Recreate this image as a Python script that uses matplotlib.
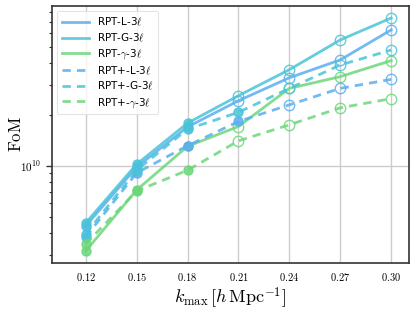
import matplotlib
matplotlib.use("Agg")
import matplotlib.pyplot as plt
import numpy as np
from matplotlib.ticker import LogLocator, NullFormatter, FixedLocator

# k_max values
k_max = [0.12, 0.15, 0.18, 0.21, 0.24, 0.27, 0.30]

# FoM per model
fom_rpt_l = [4.42e9, 9.8e9, 1.69e10, 2.41e10, 3.29e10, 4.19e10, 6.29e10]
fom_rpt_g = [4.60e9, 1.02e10, 1.78e10, 2.58e10, 3.67e10, 5.49e10, 7.39e10]
fom_rpt_gam = [3.15e9, 7.19e9, 1.30e10, 1.70e10, 2.85e10, 3.34e10, 4.15e10]
fom_rptp_l = [3.81e9, 9.06e9, 1.31e10, 1.82e10, 2.28e10, 2.85e10, 3.22e10]
fom_rptp_g = [3.97e9, 9.4e9, 1.64e10, 2.06e10, 2.85e10, 3.91e10, 4.79e10]
fom_rptp_gam = [3.46e9, 7.1e9, 9.4e9, 1.40e10, 1.74e10, 2.19e10, 2.48e10]

# number of leading points drawn as filled markers
n_filled = [3, 3, 3, 4, 4, 3]

labels = [r"RPT-L-3$\ell$", r"RPT-G-3$\ell$", r"RPT-$\gamma$-3$\ell$",
          r"RPT+-L-3$\ell$", r"RPT+-G-3$\ell$", r"RPT+-$\gamma$-3$\ell$"]

plt.rcParams['mathtext.fontset'] = 'cm'

c_l = '#5aaef2'
c_g = '#48c4d8'
c_gam = '#6cd77a'
colors = [c_l, c_g, c_gam, c_l, c_g, c_gam]
styles = ['-', '-', '-', '--', '--', '--']
series = [fom_rpt_l, fom_rpt_g, fom_rpt_gam, fom_rptp_l, fom_rptp_g, fom_rptp_gam]

fig = plt.figure(figsize=(4.15, 3.10), dpi=100)
ax = fig.add_axes([0.1246, 0.1526, 0.861, 0.828])

for y, lab, col, ls, nf in zip(series, labels, colors, styles, n_filled):
    x = np.array(k_max)
    y = np.array(y)
    ax.plot(x, y, ls=ls, color=col, lw=2.0, alpha=0.85, label=lab,
            dashes=(3, 2.2) if ls == '--' else (None, None))
    ax.plot(x[:nf], y[:nf], 'o', color=col, ms=6.5, alpha=0.85, mec=col)
    ax.plot(x[nf:], y[nf:], 'o', mfc='none', mec=col, ms=7.5, mew=1.0, alpha=0.85)

ax.set_yscale('log')
ax.set_xlim(0.10, 0.3105)
ax.set_ylim(2.69e9, 8.69e10)

ax.set_xticks(k_max)
ax.set_xticklabels([f"${k:.2f}$" for k in k_max], fontsize=7.5)
ax.yaxis.set_major_locator(FixedLocator([1e10]))
ax.set_yticklabels([r"$10^{10}$"], fontsize=8)
ax.yaxis.set_minor_locator(LogLocator(base=10, subs=np.arange(2, 10)))
ax.yaxis.set_minor_formatter(NullFormatter())

ax.tick_params(axis='x', length=0, pad=6)
ax.tick_params(axis='y', which='major', length=4, width=1, color='#333333')
ax.tick_params(axis='y', which='minor', length=2.5, width=0.8, color='#333333')

ax.grid(True, which='major', color='#cccccc', lw=1.0)
ax.set_axisbelow(True)
for sp in ax.spines.values():
    sp.set_color('#333333')
    sp.set_linewidth(1.2)

ax.set_xlabel(r"$k_{\rm max}\,[h\,{\rm Mpc}^{-1}]$", fontsize=13, labelpad=2)
ax.set_ylabel(r"${\rm FoM}$", fontsize=12)
ax.yaxis.set_label_coords(-0.075, 0.5)

leg = ax.legend(loc='upper left', fontsize=7.5, frameon=True, fancybox=True,
                handlelength=2.6, borderpad=0.45, labelspacing=0.32,
                bbox_to_anchor=(0.0, 1.0))
leg.get_frame().set_edgecolor('#dddddd')
leg.get_frame().set_linewidth(0.8)
for t in leg.get_texts():
    t.set_family('DejaVu Sans')

fig.savefig('out.png', dpi=100)
